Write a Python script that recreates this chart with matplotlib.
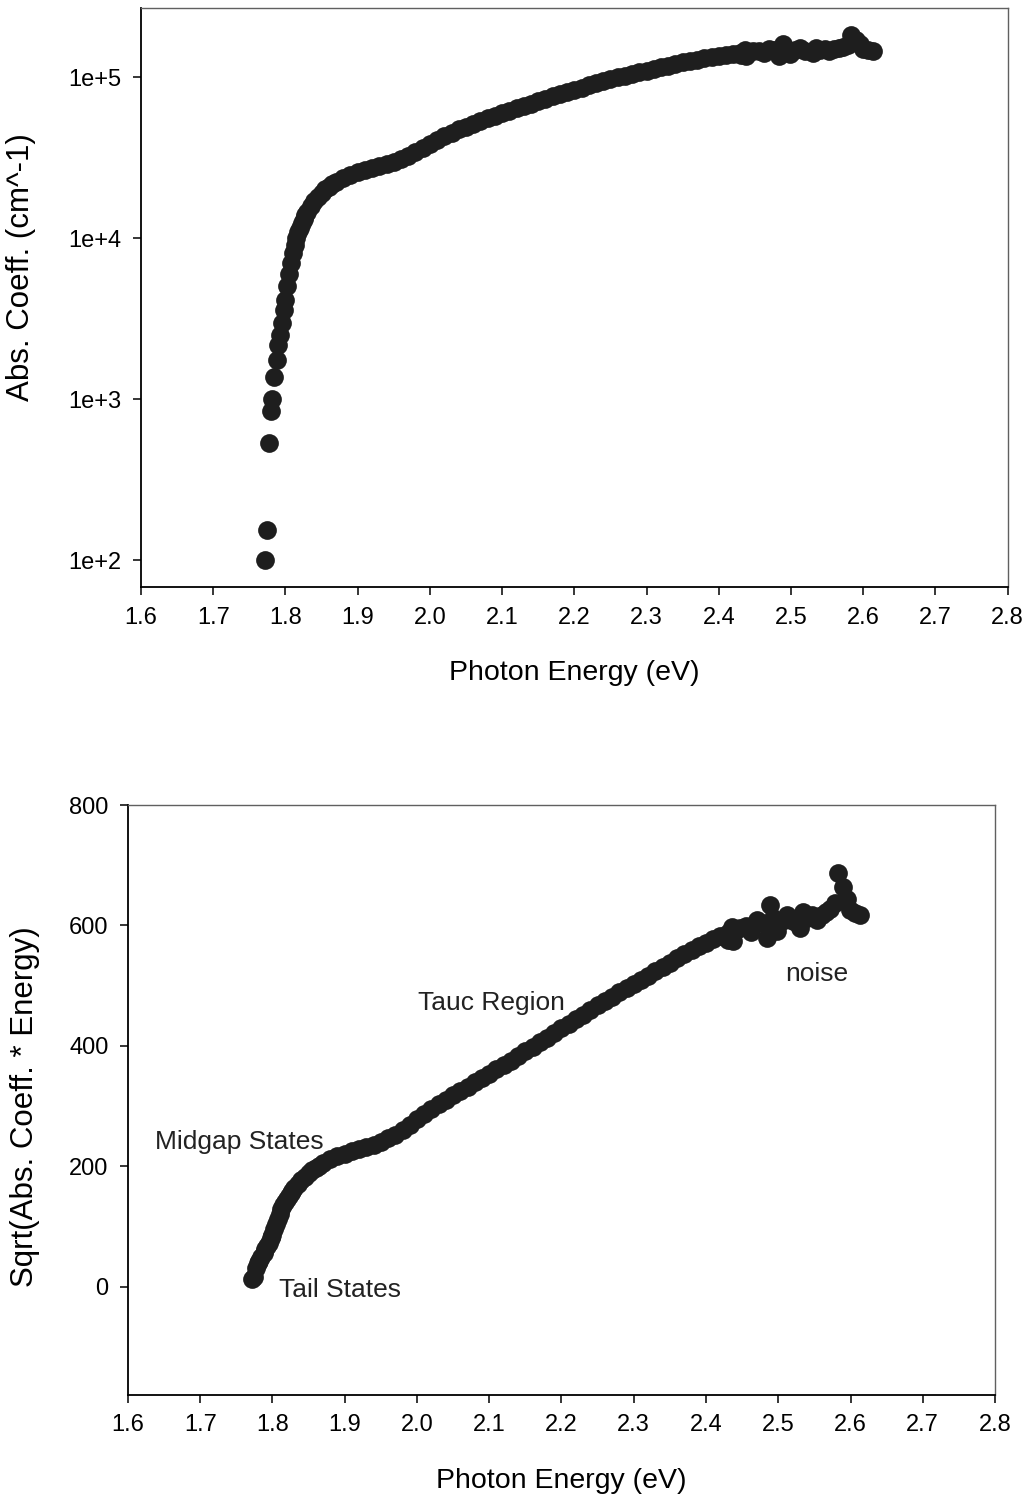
import numpy as np
import matplotlib.pyplot as plt
from matplotlib.ticker import FixedLocator, FixedFormatter, NullLocator

# -------------------------
# Data
# -------------------------
# photon energy (eV)
energy = [
    1.7716, 1.7740, 1.7770, 1.7795, 1.7818, 1.7846, 1.7880, 1.7900, 1.7925, 1.7950,
    1.7975, 1.8000, 1.8025, 1.8050, 1.8075, 1.8100, 1.8125, 1.8150, 1.8175, 1.8200,
    1.8225, 1.8250, 1.8275, 1.8300, 1.8350, 1.8400, 1.8450, 1.8500, 1.8550, 1.8600,
    1.8650, 1.8700, 1.8800, 1.8900, 1.9000, 1.9100, 1.9200, 1.9300, 1.9400, 1.9500,
    1.9600, 1.9700, 1.9800, 1.9900, 2.0000, 2.0100, 2.0200, 2.0300, 2.0400, 2.0500,
    2.0600, 2.0700, 2.0800, 2.0900, 2.1000, 2.1100, 2.1200, 2.1300, 2.1400, 2.1500,
    2.1600, 2.1700, 2.1800, 2.1900, 2.2000, 2.2100, 2.2200, 2.2300, 2.2400, 2.2500,
    2.2600, 2.2700, 2.2800, 2.2900, 2.3000, 2.3100, 2.3200, 2.3300, 2.3400, 2.3500,
    2.3600, 2.3700, 2.3800, 2.3900, 2.4000, 2.4100, 2.4200, 2.4300, 2.4310, 2.4360,
    2.4370, 2.4400, 2.4470, 2.4550, 2.4620, 2.4700, 2.4770, 2.4840, 2.4890, 2.4930,
    2.4980, 2.5050, 2.5120, 2.5200, 2.5300, 2.5340, 2.5400, 2.5470, 2.5530, 2.5600,
    2.5660, 2.5720, 2.5790, 2.5830, 2.5900, 2.5950, 2.5990, 2.6060, 2.6130,
]

# absorption coefficient (cm^-1)
abs_coeff = [
    100, 153, 533, 842, 1000, 1370, 1747, 2165, 2500, 2967,
    3570, 4120, 5010, 5960, 7000, 8040, 9120, 10000, 10840, 11610,
    12450, 13180, 13870, 14520, 15740, 16900, 18110, 19190, 20090, 20890,
    21680, 22440, 23710, 24720, 25590, 26420, 27230, 27930, 28710, 29650,
    30900, 32360, 34280, 36310, 38640, 40830, 43050, 45190, 47320, 49320,
    51290, 53330, 55340, 57410, 59570, 61800, 63970, 66220, 68550, 70960,
    73450, 75860, 78340, 80910, 83560, 86100, 88720, 91410, 94190, 97050,
    99770, 102300, 105000, 107400, 109900, 112500, 115100, 117800, 120500, 123300,
    125900, 128500, 131200, 134000, 136100, 138000, 140000, 141600, 136500, 146500,
    135500, 142900, 144700, 146000, 141000, 150200, 147000, 135000, 161500, 150000,
    139500, 147000, 151500, 146000, 140500, 152700, 148000, 150000, 145300, 149000,
    151000, 153000, 157300, 182700, 170200, 160000, 150300, 148000, 145700,
]

# Tauc quantity shown in the lower panel
tauc = np.sqrt(np.array(abs_coeff) * np.array(energy))

x_ticks = [1.6, 1.7, 1.8, 1.9, 2.0, 2.1, 2.2, 2.3, 2.4, 2.5, 2.6, 2.7, 2.8]
x_tick_labels = [f"{t:.1f}" for t in x_ticks]
log_ticks = [1e2, 1e3, 1e4, 1e5]
log_tick_labels = ["1e+2", "1e+3", "1e+4", "1e+5"]
lin_ticks = [0, 200, 400, 600, 800]

notes = ["Midgap States", "Tail States", "Tauc Region", "noise"]
note_pos = [(1.637, 241), (1.809, -5), (2.001, 471), (2.509, 520)]

plt.rcParams['font.family'] = ['Liberation Sans', 'DejaVu Sans']

dot = '#1e1e1e'
frame = '#606060'


def style_axes(ax):
    ax.spines['left'].set_color('black')
    ax.spines['bottom'].set_color('black')
    ax.spines['left'].set_linewidth(1.3)
    ax.spines['bottom'].set_linewidth(1.3)
    for side in ('top', 'right'):
        ax.spines[side].set_color(frame)
        ax.spines[side].set_linewidth(1.0)
    ax.set_xlim(1.6, 2.8)
    ax.xaxis.set_major_locator(FixedLocator(x_ticks))
    ax.xaxis.set_major_formatter(FixedFormatter(x_tick_labels))
    ax.tick_params(axis='both', direction='out', length=6, width=1.1,
                   labelsize=17, colors='black', pad=8)
    ax.set_xlabel("Photon Energy (eV)", fontsize=20.5, labelpad=23)


fig = plt.figure(figsize=(10.22, 14.98), dpi=100)

# -------------------------
# Top: absorption coefficient, log scale
# -------------------------
ax1 = fig.add_axes([0.138, 0.6081, 0.848, 0.3866])
ax1.plot(energy, abs_coeff, 'o', color=dot, ms=13.5, mew=0)
ax1.set_yscale('log')
ax1.set_ylim(68, 2.69e5)
ax1.yaxis.set_major_locator(FixedLocator(log_ticks))
ax1.yaxis.set_major_formatter(FixedFormatter(log_tick_labels))
ax1.yaxis.set_minor_locator(NullLocator())
style_axes(ax1)
ax1.set_ylabel("Abs. Coeff. (cm^-1)", fontsize=22.5)
ax1.yaxis.set_label_coords(-0.121, 0.553)

# -------------------------
# Bottom: sqrt(alpha * E), linear
# -------------------------
ax2 = fig.add_axes([0.1252, 0.0688, 0.8484, 0.3938])
ax2.plot(energy, tauc, 'o', color=dot, ms=13.5, mew=0)
ax2.set_ylim(-180, 800)
ax2.yaxis.set_major_locator(FixedLocator(lin_ticks))
ax2.yaxis.set_major_formatter(FixedFormatter([str(t) for t in lin_ticks]))
style_axes(ax2)
ax2.set_ylabel("Sqrt(Abs. Coeff. * Energy)", fontsize=22.5)
ax2.yaxis.set_label_coords(-0.101, 0.488)

for txt, (xp, yp) in zip(notes, note_pos):
    ax2.text(xp, yp, txt, fontsize=19, ha='left', va='center', color='#222222')

fig.savefig("out.png", dpi=100)
